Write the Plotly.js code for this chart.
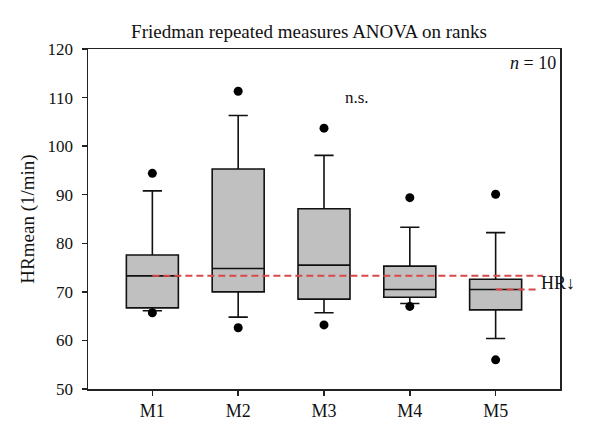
<!DOCTYPE html>
<html>
<head>
<meta charset="utf-8">
<script src="https://cdn.plot.ly/plotly-3.0.1.min.js"></script>
<style>html,body{margin:0;padding:0;background:#fff;}#chart{width:600px;height:442px;}</style>
</head>
<body>
<div id="chart"></div>
<script>
// ---- data ----
const categories = ["M1", "M2", "M3", "M4", "M5"];
const lowerWhisker = [66.1, 64.8, 65.7, 67.6, 60.4];
const q1Values     = [66.7, 70.0, 68.5, 68.9, 66.3];
const medianValues = [73.3, 74.8, 75.5, 70.5, 70.5];
const q3Values     = [77.6, 95.3, 87.1, 75.3, 72.6];
const upperWhisker = [90.8, 106.3, 98.1, 83.3, 82.2];
const outlierHigh  = [94.4, 111.3, 103.7, 89.4, 90.1];
const outlierLow   = [65.7, 62.6, 63.2, 67.0, 56.0];
const yTicks = [50, 60, 70, 80, 90, 100, 110, 120];

const pos = categories.map((c, i) => i);
const FONT = "Liberation Serif, Times New Roman, serif";
const red = "#d84848";

const boxTrace = {
  type: "box",
  x: pos,
  q1: q1Values,
  median: medianValues,
  q3: q3Values,
  lowerfence: lowerWhisker,
  upperfence: upperWhisker,
  width: 0.606,
  whiskerwidth: 0.37,
  fillcolor: "#c0c0c0",
  line: { color: "#111", width: 1.6 },
  boxpoints: false,
  hoverinfo: "skip",
  showlegend: false
};

const outX = [], outY = [];
pos.forEach((p, i) => {
  outX.push(p, p);
  outY.push(outlierHigh[i], outlierLow[i]);
});
const outlierTrace = {
  type: "scatter", mode: "markers", x: outX, y: outY,
  marker: { color: "#000", size: 9 }, showlegend: false, hoverinfo: "skip"
};

// reference line at M1 median, and HR line at M5 median
const refLine = {
  type: "scatter", mode: "lines",
  x: [pos[0], pos[4] + 0.55], y: [medianValues[0], medianValues[0]],
  line: { color: red, width: 2, dash: "7px,4px" }, showlegend: false, hoverinfo: "skip"
};
const hrLine = {
  type: "scatter", mode: "lines",
  x: [pos[4], pos[4] + 0.49], y: [medianValues[4], medianValues[4]],
  line: { color: red, width: 2, dash: "7px,4px" }, showlegend: false, hoverinfo: "skip"
};

const layout = {
  width: 600, height: 442,
  margin: { l: 88, r: 40, t: 49, b: 53 },
  paper_bgcolor: "#fff", plot_bgcolor: "#fff",
  font: { family: FONT, size: 17, color: "#111" },
  title: {
    text: "Friedman repeated measures ANOVA on ranks",
    font: { family: FONT, size: 19, color: "#111" },
    x: 0.515, xanchor: "center", y: 0.93, yanchor: "middle"
  },
  xaxis: {
    range: [-0.75, 4.75],
    tickvals: pos, ticktext: categories,
    ticks: "outside", ticklen: 5, tickwidth: 1.5, tickcolor: "#222",
    showline: true, linecolor: "#222", linewidth: 1.5, mirror: true,
    showgrid: false, zeroline: false,
    tickfont: { family: FONT, size: 18, color: "#111" }
  },
  yaxis: {
    range: [50, 120],
    tickvals: yTicks,
    ticks: "outside", ticklen: 5, tickwidth: 1.5, tickcolor: "#222",
    ticklabelstandoff: 5,
    showline: true, linecolor: "#222", linewidth: 1.5, mirror: true,
    showgrid: false, zeroline: false,
    tickfont: { family: FONT, size: 17, color: "#111" },
    title: { text: "HRmean (1/min)", font: { family: FONT, size: 19, color: "#111" }, standoff: 8 }
  },
  annotations: [
    { text: "<i>n</i> = 10", xref: "paper", yref: "paper", x: 0.995, y: 0.96,
      xanchor: "right", yanchor: "middle", showarrow: false,
      font: { family: FONT, size: 18, color: "#111" } },
    { text: "n.s.", xref: "paper", yref: "paper", x: 0.57, y: 0.857,
      xanchor: "center", yanchor: "middle", showarrow: false,
      font: { family: FONT, size: 17, color: "#111" } },
    { text: "HR↓", xref: "x", yref: "y", x: pos[4] + 0.51, y: (medianValues[0] + medianValues[4]) / 2,
      xanchor: "left", yanchor: "middle", showarrow: false,
      font: { family: FONT, size: 18, color: "#111" } }
  ]
};

Plotly.newPlot("chart", [boxTrace, outlierTrace, refLine, hrLine], layout, { displayModeBar: false, staticPlot: true });
</script>
</body>
</html>
